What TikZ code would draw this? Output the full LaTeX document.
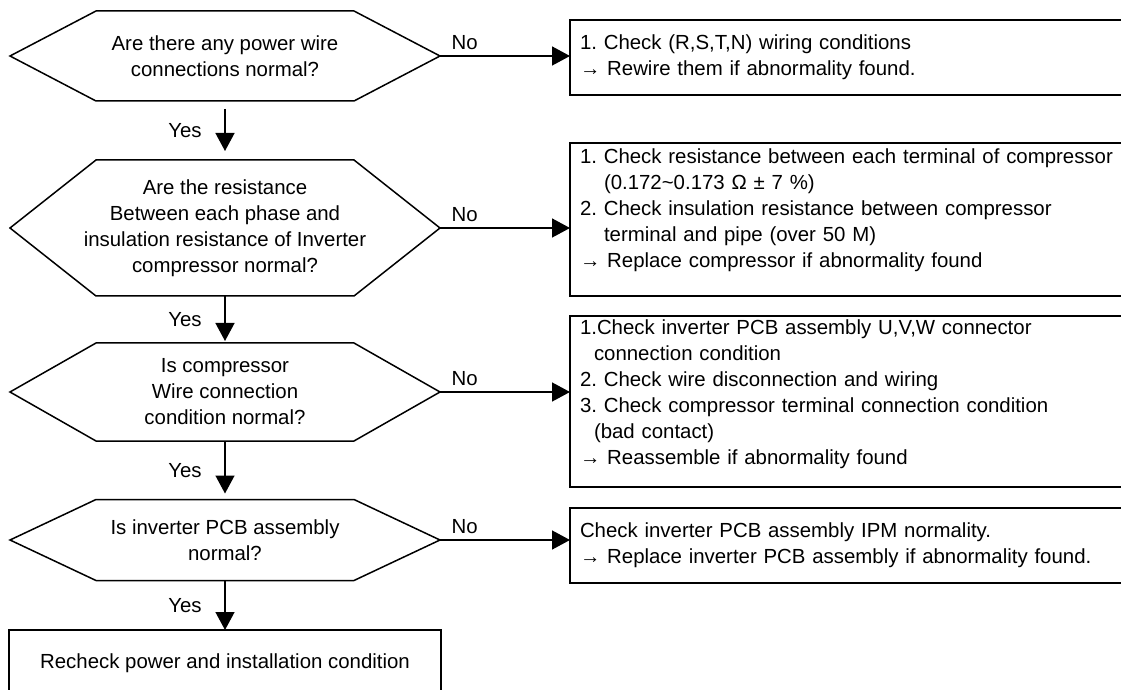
\documentclass[tikz,border=0pt]{standalone}
\usepackage{fontspec}
\setmainfont{Liberation Sans}
\usetikzlibrary{arrows.meta,positioning}
\frenchspacing

\begin{document}
\begin{tikzpicture}[
	x=0.5pt, y=-0.5pt,
	font=\fontsize{10.2}{13}\selectfont,
	>={Triangle[length=9pt,width=9.5pt]},
	question/.style={
		rectangle, draw=none,
		minimum width=215pt, inner sep=0pt, outer sep=0pt,
		align=center
	},
	hexline/.style={line width=0.75pt},
	fixbox/.style={
		rectangle, draw=black, line width=0.9pt,
		anchor=north west, outer sep=0pt,
		text width=272pt, align=left,
		inner xsep=5pt, inner ysep=3pt
	},
	endbox/.style={
		rectangle, draw=black, line width=0.9pt,
		anchor=north, outer sep=0pt,
		minimum width=216pt, minimum height=33pt,
		align=center
	},
	arr/.style={->, line width=0.75pt},
	nolbl/.style={above, pos=0.19, inner sep=3pt},
	yeslbl/.style={midway, left=8pt}
	]
	
	\useasboundingbox (0,0) rectangle (1121,690);
	
	%% ── Questions (left column) ─────────────────────────────────────────
	\node[question, minimum height=45pt] (q1) at (225,56)
		{Are there any power wire\\connections normal?};
	\node[question, minimum height=68pt] (q2) at (225,228)
		{Are the resistance\\Between each phase and\\insulation resistance of Inverter\\compressor normal?};
	\node[question, minimum height=49pt] (q3) at (225,392)
		{Is compressor\\Wire connection\\condition normal?};
	\node[question, minimum height=40.5pt] (q4) at (225,540)
		{Is inverter PCB assembly\\normal?};
	
	\foreach \q in {q1,q2,q3,q4}
	\draw[hexline] (\q.west) -- ([xshift=43pt]\q.north west) -- ([xshift=-43pt]\q.north east)
		-- (\q.east) -- ([xshift=-43pt]\q.south east) -- ([xshift=43pt]\q.south west) -- cycle;
	
	\node[endbox] (recheck) at (225,630) {Recheck power and installation condition};
	
	%% ── Checks (right column) ───────────────────────────────────────────
	\node[fixbox, minimum height=37.5pt] (fix1) at (570,20) {
		1. Check (R,S,T,N) wiring conditions\\
		→ Rewire them if abnormality found.
	};
	
	\node[fixbox] (fix2) at (570,143) {
		1. Check resistance between each terminal of compressor\\
		\hspace*{12pt}(0.172\textasciitilde0.173 Ω ± 7 \%)\\
		2. Check insulation resistance between compressor\\
		\hspace*{12pt}terminal and pipe (over 50 M)\\
		→ Replace compressor if abnormality found\rule[-11pt]{0pt}{11pt}
	};
	
	\node[fixbox, inner ysep=2pt] (fix3) at (570,316) {
		1.Check inverter PCB assembly U,V,W connector\\
		\hspace*{7pt}connection condition\\
		2. Check wire disconnection and wiring\\
		3. Check compressor terminal connection condition\\
		\hspace*{7pt}(bad contact)\\
		→ Reassemble if abnormality found\rule[-9pt]{0pt}{9pt}
	};
	
	\node[fixbox, minimum height=37.5pt] (fix4) at (570,508) {
		Check inverter PCB assembly IPM normality.\\
		→ Replace inverter PCB assembly if abnormality found.
	};
	
	%% No -> checks
	\foreach \q/\f in {q1/fix1, q2/fix2, q3/fix3, q4/fix4}
	\draw[arr] (\q.east) -- node[nolbl] {No} (\q.east -| \f.west);
	
	%% Yes -> down the spine
	\draw[arr, shorten <=4pt, shorten >=4.5pt] (q1.south) -- node[yeslbl] {Yes} (q2.north);
	\draw[arr, shorten >=1pt] (q2.south) -- node[yeslbl] {Yes} (q3.north);
	\draw[arr, shorten >=3pt] (q3.south) -- node[yeslbl] {Yes} (q4.north);
	\draw[arr] (q4.south) -- node[yeslbl] {Yes} (recheck.north);
	
\end{tikzpicture}
\end{document}
